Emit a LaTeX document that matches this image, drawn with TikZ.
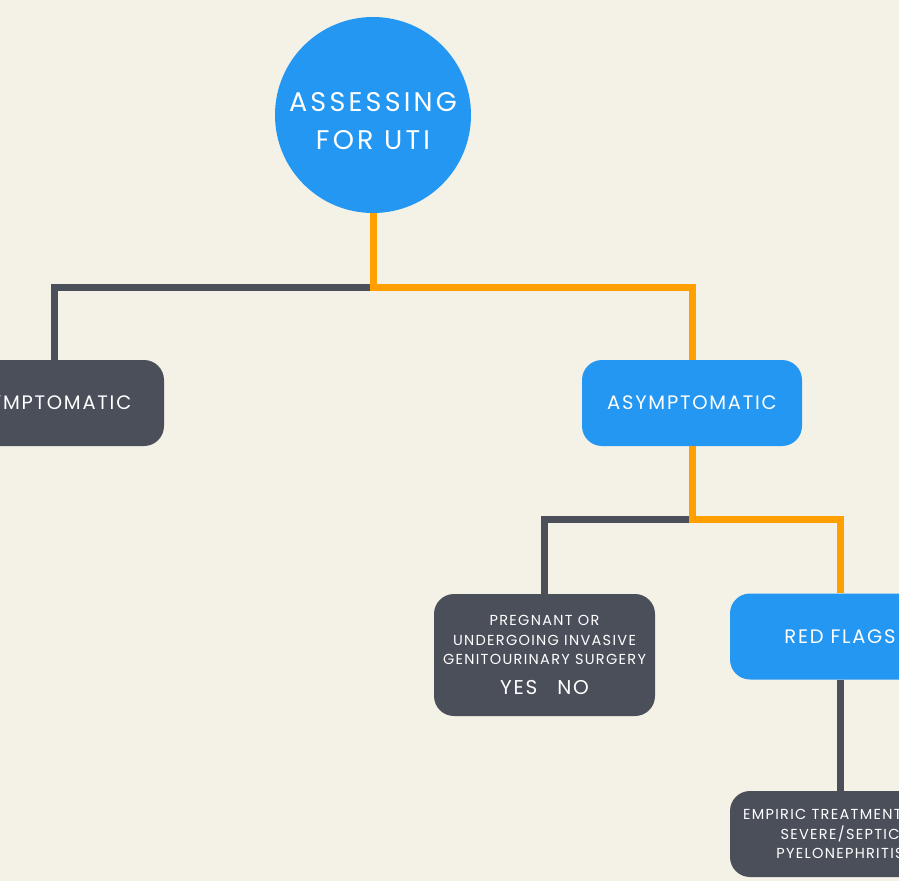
\documentclass[tikz,border=0pt]{standalone}
\usepackage{fontspec}
\setmainfont{Poppins}
\newfontfamily\flowfont[LetterSpace=9]{Poppins}
\newfontfamily\titlefont[LetterSpace=12]{Poppins}
\usetikzlibrary{calc}
\definecolor{paper}{RGB}{244,241,231}
\definecolor{uiblue}{RGB}{35,151,242}
\definecolor{slate}{RGB}{74,79,90}
\definecolor{amber}{RGB}{255,160,0}
\newcommand*{\boxw }{220pt}
\newcommand*{\boxh }{86pt}
\newcommand*{\wirew}{7pt}

\begin{document}
\begin{tikzpicture}[x=1pt, y=-1pt, font=\flowfont,
    card/.style={rounded corners=20pt, minimum width=\boxw, minimum height=\boxh, inner sep=0pt, text=white, align=center},
    wire/.style={line width=\wirew}]
    \fill [paper] (0,0) rectangle (899,881);
    \clip (0,0) rectangle (899,881);
        % top of the tree
        \node [circle, fill=uiblue, minimum size=196pt, inner sep=0pt] (uti) at (373,115) {};
        \node [text=white, align=center, font=\titlefont\fontsize{27}{38}\selectfont] (utitext) at (373,121) {ASSESSING\\FOR UTI};
        \node [card, fill=slate, font=\flowfont\fontsize{19.5}{22}\selectfont] (sym) at (54,403) {SYMPTOMATIC};
        \node [card, fill=uiblue, font=\flowfont\fontsize{19.5}{22}\selectfont] (asym) at (692,403) {ASYMPTOMATIC};
        % second level
        \node [card, fill=slate, minimum width=221pt, minimum height=122pt, font=\flowfont\fontsize{14.5}{19.5}\selectfont] (preg) at (544.5,655)
            {PREGNANT OR\\UNDERGOING INVASIVE\\GENITOURINARY SURGERY\\[10pt]{\fontsize{20}{22}\selectfont YES\quad NO}};
        \node [card, fill=uiblue, font=\flowfont\fontsize{19.5}{22}\selectfont] (red) at (840,636.5) {RED FLAGS};
        \node [card, fill=slate, font=\flowfont\fontsize{14.5}{19.5}\selectfont] (emp) at (840,834)
            {EMPIRIC TREATMENT FOR\\SEVERE/SEPTIC\\PYELONEPHRITIS};
        \coordinate (split1) at (373,287);
        \coordinate (split2) at (692,519);
        % connectors
        \draw [wire, slate] (split1) -| (sym.north);
        \draw [wire, slate] (split2) -| (preg.north);
        \draw [wire, slate] (red.south) -- (emp.north);
        \draw [wire, amber] (uti.south) -- (split1) -| (asym.north);
        \draw [wire, amber] (asym.south) -- (split2) -| (red.north);
    \end{tikzpicture}
\end{document}
